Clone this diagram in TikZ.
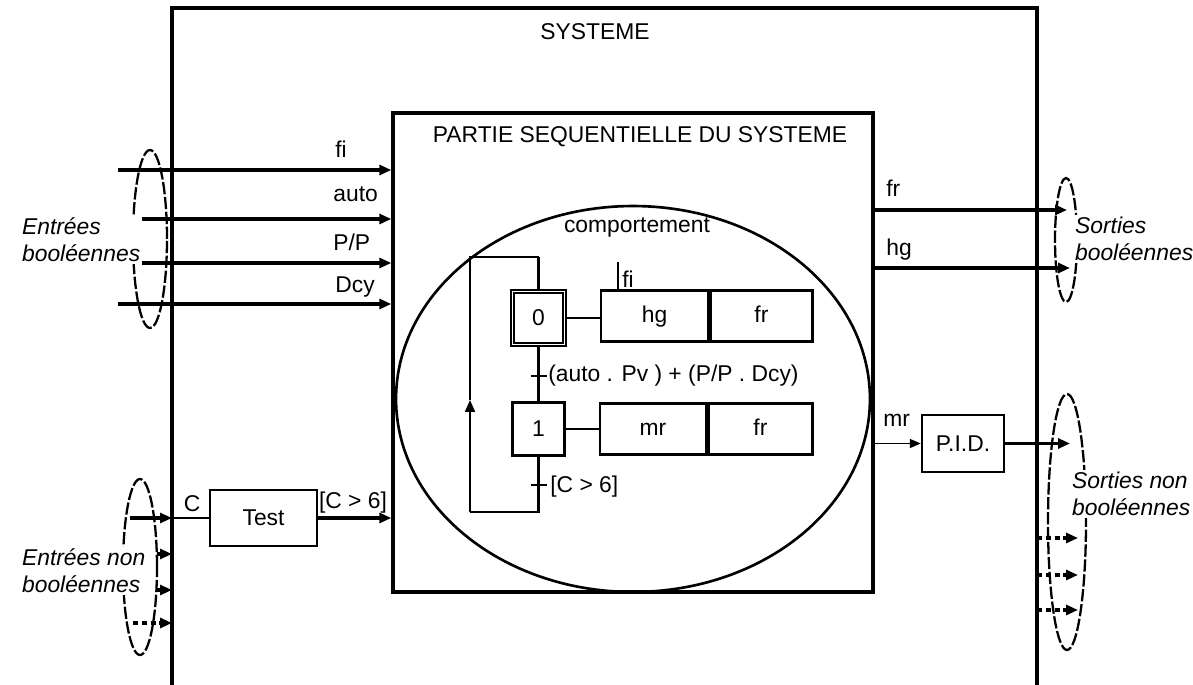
\documentclass[tikz,border=0pt]{standalone}
\usepackage{fontspec}
\setmainfont{Liberation Sans}
\usetikzlibrary{arrows.meta,positioning,shapes.geometric}

\begin{document}
\begin{tikzpicture}[
    x=0.02cm, y=-0.02cm,
    font=\fontsize{13}{15.5}\selectfont,
    txt/.style={inner sep=0pt, anchor=west},
    grp/.style={font=\fontsize{13}{15.5}\selectfont\itshape, align=left,
                inner sep=1pt, fill=white, anchor=west},
    blk/.style={draw, line width=1.4pt, rectangle, inner sep=0pt},
    stepbox/.style={draw, line width=1.4pt, minimum width=1.04cm,
                    minimum height=1.06cm, inner sep=0pt},
    act/.style={draw, line width=1.4pt, minimum height=1.02cm, inner sep=0pt,
                text height=9.5pt, text depth=2.5pt},
    tip/.style={-{Triangle[length=2.4mm,width=2mm]}},
    sig/.style={line width=2pt, tip},
    dsig/.style={line width=1.8pt, dash pattern=on 3pt off 2pt, tip},
    grpline/.style={line width=1.3pt, dash pattern=on 7pt off 1.5pt},
    gline/.style={line width=1.6pt}
  ]
  \useasboundingbox (0,0) rectangle (1193,685);

  % systeme
  \draw[line width=2.2pt] (172,685) -- (172,8) -- (1037,8) -- (1037,685);
  \node (systitle) at (595,32) {SYSTEME};
  \coordinate (lwall) at (172,0);
  \coordinate (rwall) at (1037,0);

  % partie sequentielle
  \node[draw, line width=2pt, minimum width=9.6cm, minimum height=9.58cm]
    (seq) at (633,352.5) {};
  \node (seqtitle) at (640,137) {PARTIE SEQUENTIELLE DU SYSTEME};
  \node[draw, ellipse, line width=1.5pt, minimum width=9.48cm,
        minimum height=7.72cm] (comp) at (633,399) {};
  \node (comptitle) at (637,227) {comportement};

  % grafcet
  \node[stepbox, line width=1.1pt, double, double distance=1pt] (e0) at (538.5,318) {0};
  \node[stepbox] (e1) at (538.5,429) {1};
  \node[act, minimum width=2.14cm] (a0a) at (654.5,316) {hg};
  \node[act, minimum width=2.04cm, anchor=west] (a0b) at (a0a.east) {fr};
  \node[act, minimum width=2.12cm] (a1a) at (653,429) {mr};
  \node[act, minimum width=2.08cm, anchor=west] (a1b) at (a1a.east) {fr};
  \draw[gline] (e0.east) -- (e0.east -| a0a.west);
  \draw[gline] (e1.east) -- (e1.east -| a1a.west);
  \draw[gline] (e0) -- (e1);

  \coordinate (t01) at (538.5,376);
  \draw[gline] ([xshift=-0.16cm]t01) -- ([xshift=0.16cm]t01);
  \node[txt] (r01) at (548,376) {(auto . Pv ) + (P/P . Dcy)};
  \coordinate (t12) at (538.5,485);
  \draw[gline] ([xshift=-0.16cm]t12) -- ([xshift=0.16cm]t12);
  \node[txt] (r12) at (550,487) {[C > 6]};

  \coordinate (lpb) at (470,512);
  \coordinate (lpm) at (470,400);
  \coordinate (lpt) at (470,257);
  \draw[gline] (e1.south) -- (e1.south |- lpb) -- (lpb);
  \draw[line width=1.1pt, tip] (lpb) -- (lpm);
  \draw[line width=1.1pt] (lpm) -- (lpt) -- (lpt -| e0.north);
  \draw[gline] (lpt -| e0.north) -- (e0.north);

  \coordinate (fimk) at (618,262);
  \draw[line width=1pt] (fimk) -- (fimk |- a0a.north);
  \node[txt] (firc) at (622,279) {fi};

  % entrees booleennes
  \coordinate (fiin) at (118,170);
  \draw[sig] (fiin) -- (fiin -| seq.west);
  \node[txt] (filab) at (335,149) {fi};
  \coordinate (autoin) at (142,219);
  \draw[sig] (autoin) -- (autoin -| seq.west);
  \node[txt] (autolab) at (333,194) {auto};
  \coordinate (ppin) at (142,263);
  \draw[sig] (ppin) -- (ppin -| seq.west);
  \node[txt] (pplab) at (333,242) {P/P};
  \coordinate (dcyin) at (118,304);
  \draw[sig] (dcyin) -- (dcyin -| seq.west);
  \node[txt] (dcylab) at (335,287) {Dcy};
  \draw[grpline] (150,239) ellipse [x radius=0.34cm, y radius=1.78cm];
  \node[grp] (inb) at (20,240) {Entrées\\booléennes};

  % entrees non booleennes
  \node[blk, minimum width=2.14cm, minimum height=1.12cm] (test) at (263.5,518) {Test};
  \coordinate (cin) at (130,518);
  \coordinate (cwall) at (172,518);
  \draw[sig] (cin) -- (cwall);
  \draw[line width=1.5pt] (cwall) -- (test.west);
  \node (clab) at (192,504) {C};
  \draw[sig] (test.east) -- (test.east -| seq.west);
  \node (cgt) at (353,503) {[C > 6]};
  \foreach \yy/\xs in {554/157, 590/157, 623/133} {
    \coordinate (nb\yy) at (\xs,\yy);
    \draw[dsig] (nb\yy) -- (nb\yy -| lwall);
  }
  \draw[grpline] (140,567) ellipse [x radius=0.34cm, y radius=1.76cm];
  \node[grp] (innb) at (20,571) {Entrées non\\booléennes};

  % sorties booleennes
  \coordinate (frout) at (1067,210);
  \draw[sig] (frout -| seq.east) -- (frout);
  \node[txt] (frlab) at (886,188) {fr};
  \coordinate (hgout) at (1070,268);
  \draw[sig] (hgout -| seq.east) -- (hgout);
  \node[txt] (hglab) at (886,250) {hg};
  \draw[grpline] (1066,240) ellipse [x radius=0.22cm, y radius=1.24cm];
  \node[grp] (outb) at (1073,239) {Sorties\\booléennes};

  % sorties non booleennes
  \node[blk, minimum width=1.64cm, minimum height=1.14cm] (pid) at (963,443.5) {P.I.D.};
  \draw[line width=0.9pt, -{Triangle[length=2.2mm,width=1.8mm]}]
    (pid.west -| seq.east) -- (pid.west);
  \node[txt] (mrlab) at (883,420) {mr};
  \coordinate (pidout) at (1070,443.5);
  \draw[sig] (pid.east) -- (pidout);
  \foreach \yy in {538,575,610} {
    \coordinate (snb\yy) at (1078,\yy);
    \draw[dsig] (rwall |- snb\yy) -- (snb\yy);
  }
  \draw[grpline] (1067,522) ellipse [x radius=0.38cm, y radius=2.56cm];
  \node[grp] (outnb) at (1070,494) {Sorties non\\booléennes};
\end{tikzpicture}
\end{document}
